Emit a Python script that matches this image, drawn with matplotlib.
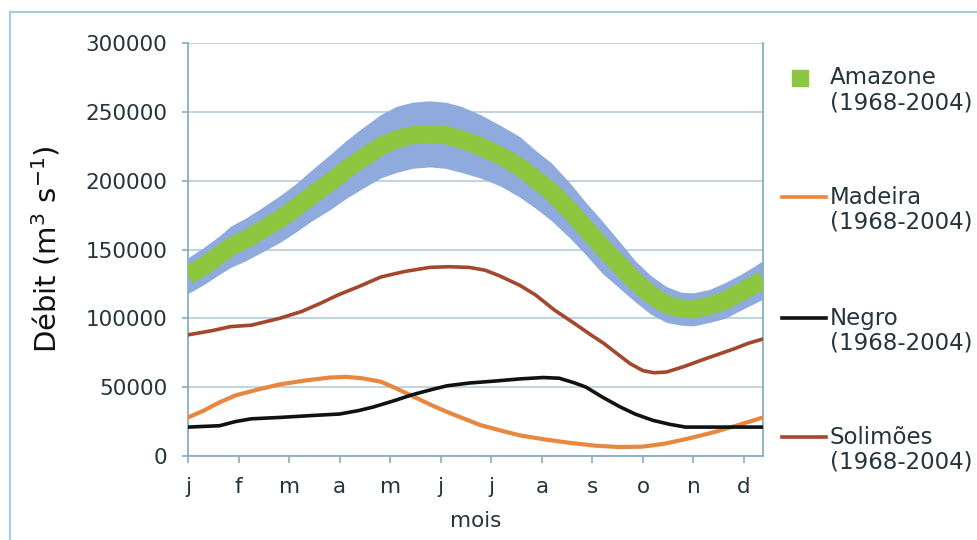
import matplotlib.pyplot as plt
from matplotlib.lines import Line2D
from matplotlib.patches import Rectangle
from matplotlib.ticker import StrMethodFormatter

plt.rcParams['font.family'] = ['DejaVu Sans']

# day of year (0..364) for each reading, values in m3/s
amazone_days = [0, 10, 20, 27, 36, 45, 58, 68, 78, 90, 100, 110, 122, 132, 142,
                153, 163, 173, 185, 198, 210, 220, 230, 242, 252, 262, 273, 283,
                293, 303, 312, 320, 330, 340, 350, 358, 364]
amazone_mean = [131000, 138000, 146000, 152000, 157000, 163000, 172000, 180000,
                189000, 199000, 208000, 216000, 225000, 230000, 233000, 234000,
                233000, 230000, 225000, 218000, 210000, 201000, 192000, 178000,
                165000, 152000, 139000, 127000, 117000, 110000, 107000, 106500,
                109000, 113000, 119000, 124000, 128000]
amazone_err = [13000, 13500, 14000, 15000, 15500, 16000, 17000, 17500, 18500,
               20000, 21000, 22000, 23000, 24000, 24000, 24000, 24000, 24000,
               23000, 22000, 22000, 21000, 21000, 20000, 19000, 19000, 17000,
               15000, 14000, 13000, 12000, 12000, 12000, 13000, 13000, 13500,
               14000]

madeira_days = [0, 10, 20, 30, 45, 58, 75, 90, 100, 110, 122, 132, 143, 154,
                164, 175, 185, 198, 210, 226, 242, 258, 273, 288, 302, 316, 332,
                347, 364]
madeira_vals = [28000, 33000, 39000, 44000, 48500, 52000, 55000, 57000, 57500,
                56500, 54000, 49000, 43000, 37000, 32000, 27000, 22500, 18500,
                15000, 12000, 9500, 7500, 6500, 6800, 9000, 12500, 17000, 22000,
                28000]

negro_days = [0, 20, 30, 40, 58, 80, 96, 108, 117, 130, 142, 155, 164, 178, 195,
              210, 225, 235, 245, 252, 262, 273, 283, 294, 305, 315, 330, 345,
              364]
negro_vals = [21000, 22000, 25000, 27000, 28000, 29500, 30500, 33000, 35500,
              40000, 44500, 48500, 51000, 53000, 54500, 56000, 57000, 56500,
              53000, 50000, 43000, 36000, 30500, 26000, 23000, 21000, 21000,
              21000, 21000]

solimoes_days = [0, 15, 27, 40, 58, 72, 84, 95, 108, 122, 137, 153, 165, 178,
                 188, 197, 210, 220, 232, 245, 255, 263, 272, 280, 288, 295, 303,
                 314, 326, 336, 346, 355, 364]
solimoes_vals = [88000, 91000, 94000, 95000, 100000, 105000, 111000, 117000,
                 123000, 130000, 134000, 137000, 137500, 137000, 135000, 131000,
                 124000, 117000, 106000, 96000, 88000, 82000, 74000, 67000,
                 62000, 60500, 61000, 65000, 70000, 74000, 78000, 82000, 85000]

month_labels = ['j', 'f', 'm', 'a', 'm', 'j', 'j', 'a', 's', 'o', 'n', 'd']
month_ticks = [32 * i for i in range(12)]
y_ticks = [0, 50000, 100000, 150000, 200000, 250000, 300000]

legend_names = ['Amazone', 'Madeira', 'Negro', 'Solimões']
period = '(1968-2004)'

c_green = '#8DC63F'
c_blue = '#8FAADC'
c_orange = '#E8873F'
c_black = '#111111'
c_brown = '#A3472F'
c_axis = '#86AEC6'
c_grid = '#B9D1DF'
c_text = '#26343C'

fig = plt.figure(figsize=(9.78, 5.40), dpi=100)
ax = fig.add_axes([188 / 978, 1 - 456 / 540, (763 - 188) / 978, (456 - 43) / 540])

lo = [m - e for m, e in zip(amazone_mean, amazone_err)]
hi = [m + e for m, e in zip(amazone_mean, amazone_err)]
ax.fill_between(amazone_days, lo, hi, color=c_blue, lw=0, zorder=2)
ax.plot(amazone_days, amazone_mean, color=c_green, lw=13, zorder=3,
        solid_capstyle='butt', solid_joinstyle='round')
ax.plot(solimoes_days, solimoes_vals, color=c_brown, lw=2.6, zorder=4,
        solid_joinstyle='round')
ax.plot(madeira_days, madeira_vals, color=c_orange, lw=3.0, zorder=4,
        solid_joinstyle='round')
ax.plot(negro_days, negro_vals, color=c_black, lw=2.6, zorder=5,
        solid_joinstyle='round')

ax.set_xlim(0, 364)
ax.set_ylim(0, 300000)
ax.set_xticks(month_ticks)
ax.set_xticklabels(month_labels)
ax.set_yticks(y_ticks)
ax.yaxis.set_major_formatter(StrMethodFormatter('{x:.0f}'))
ax.grid(axis='y', color=c_grid, lw=1.3, zorder=0)
ax.set_axisbelow(True)
for side in ['left', 'bottom', 'right']:
    ax.spines[side].set_color(c_axis)
    ax.spines[side].set_linewidth(1.3)
ax.spines['top'].set_visible(False)
ax.tick_params(axis='x', direction='out', length=5, width=1.2, color=c_axis,
               pad=10, labelsize=15.5, labelcolor=c_text)
ax.tick_params(axis='y', direction='out', length=4, width=1.2, color=c_axis,
               pad=11, labelsize=15.5, labelcolor=c_text)
ax.set_xlabel('mois', fontsize=15.5, color=c_text, labelpad=10)
ax.set_ylabel('Débit (m$^3$ s$^{-1}$)', fontsize=21, color='#111111', labelpad=16)

# legend drawn by hand so the handle sits beside the first line
leg_y = [78, 197, 318, 437]
for i, name in enumerate(legend_names):
    yf = 1 - leg_y[i] / 540
    if i == 0:
        fig.add_artist(Line2D([800 / 978], [yf], marker='s', ms=11, color=c_green,
                              lw=0, transform=fig.transFigure))
    else:
        col = [c_orange, c_black, c_brown][i - 1]
        fig.add_artist(Line2D([782 / 978, 826 / 978], [yf, yf], color=col, lw=2.6,
                              transform=fig.transFigure))
    fig.text(830 / 978, yf, name, fontsize=16.5, color=c_text, va='center', ha='left')
    fig.text(830 / 978, yf - 25 / 540, period, fontsize=16.5, color=c_text,
             va='center', ha='left')

fig.add_artist(Rectangle((10 / 978, -0.01), 1.0, 1 - 12 / 540 + 0.01,
                         transform=fig.transFigure, fill=False,
                         edgecolor='#A9CBE0', lw=1.5))

fig.savefig('out.png', dpi=100)
